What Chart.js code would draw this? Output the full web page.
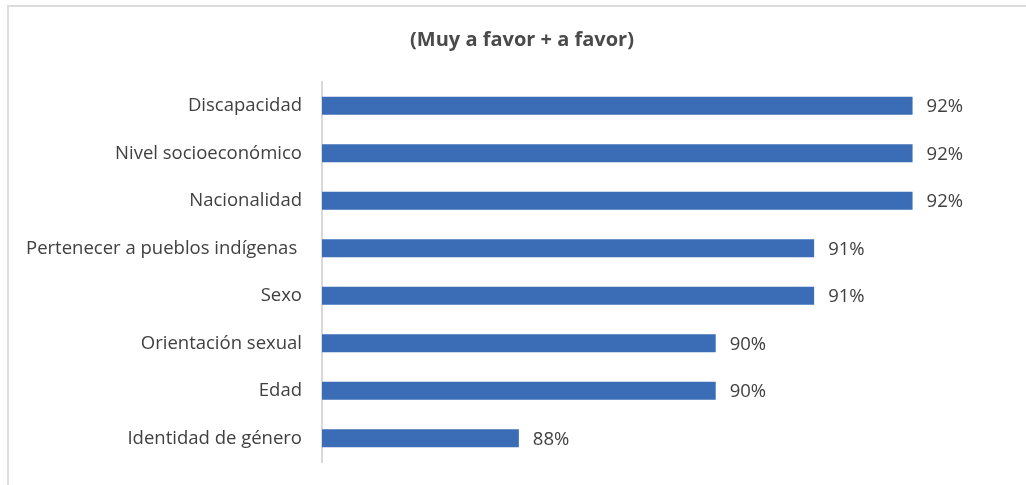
<!DOCTYPE html>
<html>
<head>
<meta charset="utf-8">
<script src="https://cdn.jsdelivr.net/npm/chart.js@4/dist/chart.umd.min.js"></script>
<style>
  html, body { margin: 0; padding: 0; background: #fff; }
  #wrap { position: relative; width: 1026px; height: 485px; }
  #frame { position: absolute; left: 7px; top: 5px; right: 0; bottom: 0;
           border-top: 2px solid #dcdcdc; border-left: 2px solid #dcdcdc; }
  canvas { position: absolute; left: 0; top: 0; }
</style>
</head>
<body>
<div id="wrap">
  <div id="frame"></div>
  <canvas id="c" width="1026" height="485"></canvas>
</div>
<script>
const title = "(Muy a favor + a favor)";
const categories = [
  "Discapacidad",
  "Nivel socioeconómico",
  "Nacionalidad",
  "Pertenecer a pueblos indígenas ",
  "Sexo",
  "Orientación sexual",
  "Edad",
  "Identidad de género"
];
const values = [92, 92, 92, 91, 91, 90, 90, 88];
const valueLabels = ["92%", "92%", "92%", "91%", "91%", "90%", "90%", "88%"];

const textColor = "#404040";
const fontFamily = "'Open Sans', Lato, sans-serif";

const titlePlugin = {
  id: "titleDraw",
  afterDraw(chart) {
    const ctx = chart.ctx;
    ctx.save();
    ctx.font = "bold 20px " + fontFamily;
    ctx.fillStyle = "#4a4a4a";
    ctx.textAlign = "center";
    ctx.textBaseline = "middle";
    ctx.fillText(title, 522, 40);
    ctx.restore();
  }
};

const valueLabelPlugin = {
  id: "valueLabels",
  afterDatasetsDraw(chart) {
    const ctx = chart.ctx;
    const meta = chart.getDatasetMeta(0);
    ctx.save();
    ctx.font = "18.5px " + fontFamily;
    ctx.fillStyle = textColor;
    ctx.textAlign = "left";
    ctx.textBaseline = "middle";
    meta.data.forEach((bar, i) => {
      ctx.fillText(valueLabels[i], bar.x + 14, bar.y + 1);
    });
    ctx.restore();
  }
};

new Chart(document.getElementById("c"), {
  type: "bar",
  data: {
    labels: categories,
    datasets: [{
      data: values,
      backgroundColor: "#3b6db6",
      borderWidth: 0,
      barPercentage: 0.38,
      categoryPercentage: 1.0
    }]
  },
  options: {
    indexAxis: "y",
    responsive: false,
    animation: false,
    devicePixelRatio: 1,
    layout: { padding: { top: 82, bottom: 23, left: 0, right: 15 } },
    plugins: {
      legend: { display: false },
      title: { display: false },
      tooltip: { enabled: false }
    },
    scales: {
      x: {
        display: false,
        min: 86,
        max: 93
      },
      y: {
        afterFit(scale) {
          scale.width = 322;
          scale.paddingTop = 0;
          scale.paddingBottom = 0;
        },
        grid: { display: true, drawOnChartArea: false, drawTicks: false },
        border: { display: true, color: "#d9d9d9", width: 2 },
        ticks: {
          color: textColor,
          font: { family: fontFamily, size: 18.5 },
          padding: 20
        }
      }
    }
  },
  plugins: [titlePlugin, valueLabelPlugin]
});
</script>
</body>
</html>
